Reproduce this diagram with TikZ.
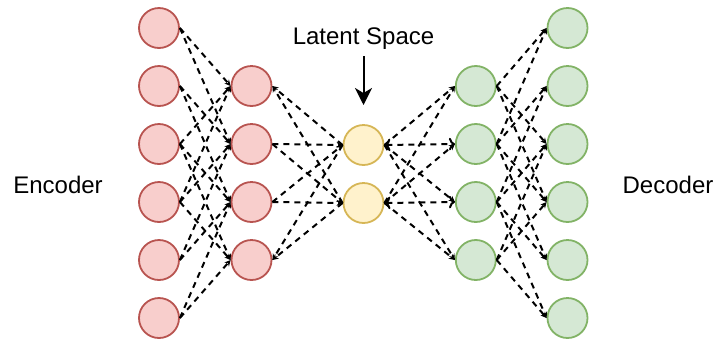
\documentclass[tikz,border=0pt]{standalone}
\usepackage{fontspec}
\setmainfont{Liberation Sans}
\usetikzlibrary{arrows.meta}

\definecolor{encfill}{HTML}{F8CECC}
\definecolor{encline}{HTML}{B85450}
\definecolor{latfill}{HTML}{FFF2CC}
\definecolor{latline}{HTML}{D6B656}
\definecolor{decfill}{HTML}{D5E8D4}
\definecolor{decline}{HTML}{82B366}

\begin{document}
\begin{tikzpicture}[
    x=1pt, y=-1pt,
    every node/.style={font=\fontsize{24}{28}\selectfont},
    neuron/.style={circle, line width=1.8pt, minimum size=40pt, inner sep=0pt},
    enc/.style={neuron, draw=encline, fill=encfill},
    lat/.style={neuron, draw=latline, fill=latfill},
    dec/.style={neuron, draw=decline, fill=decfill},
    link/.style={line width=2pt, dash pattern=on 6pt off 5pt, -{Stealth[length=6pt,width=6pt]}},
    pointer/.style={line width=2pt, -{Stealth[length=17pt,width=17pt,inset=5pt]}}
]
\useasboundingbox (0,0) rectangle (717,341);

% Eingabeschicht
\node[enc] (in1) at (159,28) {};
\node[enc] (in2) at (159,86) {};
\node[enc] (in3) at (159,144) {};
\node[enc] (in4) at (159,202) {};
\node[enc] (in5) at (159,260) {};
\node[enc] (in6) at (159,318) {};

% versteckte Schicht (Encoder)
\node[enc] (h1) at (251.5,86) {};
\node[enc] (h2) at (251.5,144) {};
\node[enc] (h3) at (251.5,202) {};
\node[enc] (h4) at (251.5,260) {};

% latenter Raum
\node[lat] (z1) at (363.5,145) {};
\node[lat] (z2) at (363.5,203) {};

% versteckte Schicht (Decoder)
\node[dec] (d1) at (475.8,86) {};
\node[dec] (d2) at (475.8,144) {};
\node[dec] (d3) at (475.8,202) {};
\node[dec] (d4) at (475.8,260) {};

% Ausgabeschicht
\node[dec] (out1) at (567.5,28) {};
\node[dec] (out2) at (567.5,86) {};
\node[dec] (out3) at (567.5,144) {};
\node[dec] (out4) at (567.5,202) {};
\node[dec] (out5) at (567.5,260) {};
\node[dec] (out6) at (567.5,318) {};

% Beschriftungen
\node (encoder) at (58,185) {Encoder};
\node (decoder) at (668,185) {Decoder};
\node (latent) at (363.5,39) {Latent Space};
\coordinate (latenttip) at (363.5,105);
\draw[pointer] (latent.south) ++(0,3) -- (latenttip);

% Eingabe -> Encoder
\draw[link] (in1.east) -- (h1.west);
\draw[link] (in1.east) -- (h2.west);
\draw[link] (in2.east) -- (h2.west);
\draw[link] (in2.east) -- (h3.west);
\draw[link] (in3.east) -- (h1.west);
\draw[link] (in3.east) -- (h3.west);
\draw[link] (in3.east) -- (h4.west);
\draw[link] (in4.east) -- (h1.west);
\draw[link] (in4.east) -- (h2.west);
\draw[link] (in4.east) -- (h4.west);
\draw[link] (in5.east) -- (h2.west);
\draw[link] (in5.east) -- (h3.west);
\draw[link] (in6.east) -- (h3.west);
\draw[link] (in6.east) -- (h4.west);

% Encoder <-> latenter Raum
\draw[link] (z1.west) -- (h1.east);
\draw[link] (z2.west) -- (h1.east);
\draw[link] (h2.east) -- (z1.west);
\draw[link] (h2.east) -- (z2.west);
\draw[link] (h3.east) -- (z1.west);
\draw[link] (h3.east) -- (z2.west);
\draw[link] (z1.west) -- (h4.east);
\draw[link] (z2.west) -- (h4.east);

% latenter Raum -> Decoder
\draw[link] (z1.east) -- (d1.west);
\draw[link, <->] (z1.east) -- (d2.west);
\draw[link] (z1.east) -- (d3.west);
\draw[link] (z1.east) -- (d4.west);
\draw[link] (z2.east) -- (d1.west);
\draw[link] (z2.east) -- (d2.west);
\draw[link, <->] (z2.east) -- (d3.west);
\draw[link] (z2.east) -- (d4.west);

% Decoder -> Ausgabe
\draw[link] (d1.east) -- (out1.west);
\draw[link] (d1.east) -- (out3.west);
\draw[link] (d1.east) -- (out4.west);
\draw[link] (d2.east) -- (out1.west);
\draw[link] (d2.east) -- (out2.west);
\draw[link] (d2.east) -- (out4.west);
\draw[link] (d2.east) -- (out5.west);
\draw[link] (d3.east) -- (out2.west);
\draw[link] (d3.east) -- (out3.west);
\draw[link] (d3.east) -- (out5.west);
\draw[link] (d3.east) -- (out6.west);
\draw[link] (d4.east) -- (out3.west);
\draw[link] (d4.east) -- (out4.west);
\draw[link] (d4.east) -- (out6.west);

\end{tikzpicture}
\end{document}
